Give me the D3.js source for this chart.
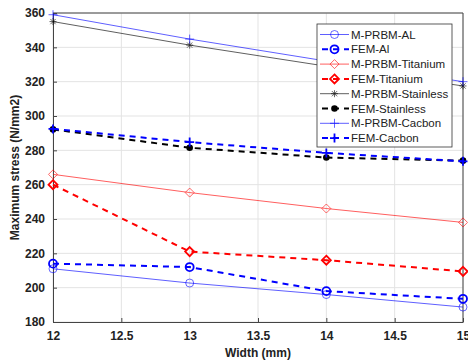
<!DOCTYPE html>
<html>
<head>
<meta charset="utf-8">
<script src="https://cdn.jsdelivr.net/npm/d3@7"></script>
<style>
  body { margin: 0; background: #fff; }
  #chart { width: 468px; height: 363px; }
  text { font-family: "Liberation Sans", Arial, sans-serif; }
</style>
</head>
<body>
<div id="chart"></div>
<script>
// Widths (mm)
const widths = [12, 13, 14, 15];

// Maximum stress values (N/mm2)
const mAl = [211, 202.7, 196, 188.7];
const femAl = [214, 212, 198, 193.5];
const mTitanium = [266, 255.4, 246.1, 238];
const femTitanium = [260, 221, 216, 209.5];
const mStainless = [355, 341.3, 329, 317.5];
const femStainless = [292.2, 281.5, 275.8, 274];
const mCacbon = [359, 344.8, 332, 320];
const femCacbon = [292.5, 284.8, 278.5, 273.6];

const seriesNames = ['M-PRBM-AL', 'FEM-Al', 'M-PRBM-Titanium', 'FEM-Titanium',
    'M-PRBM-Stainless', 'FEM-Stainless', 'M-PRBM-Cacbon', 'FEM-Cacbon'];

const xTicks = [12, 12.5, 13, 13.5, 14, 14.5, 15];
const yTicks = [180, 200, 220, 240, 260, 280, 300, 320, 340, 360];

// style per series: colour, dashed, marker
const series = [
    { name: seriesNames[0], values: mAl, color: '#0000ff', dash: false, marker: 'circle' },
    { name: seriesNames[1], values: femAl, color: '#0000ff', dash: true, marker: 'circle' },
    { name: seriesNames[2], values: mTitanium, color: '#ff0000', dash: false, marker: 'diamond' },
    { name: seriesNames[3], values: femTitanium, color: '#ff0000', dash: true, marker: 'diamond' },
    { name: seriesNames[4], values: mStainless, color: '#000000', dash: false, marker: 'star' },
    { name: seriesNames[5], values: femStainless, color: '#000000', dash: true, marker: 'dot' },
    { name: seriesNames[6], values: mCacbon, color: '#0000ff', dash: false, marker: 'plus' },
    { name: seriesNames[7], values: femCacbon, color: '#0000ff', dash: true, marker: 'plus' }
];

const margin = { top: 13, right: 5, bottom: 41, left: 53 };
const W = 468, H = 363;
const width = W - margin.left - margin.right;
const height = H - margin.top - margin.bottom;

const svg = d3.select('#chart').append('svg')
    .attr('width', W)
    .attr('height', H)
    .append('g')
    .attr('transform', `translate(${margin.left},${margin.top})`);

const x = d3.scaleLinear().domain([12, 15]).range([0, width]);
const y = d3.scaleLinear().domain([180, 360]).range([height, 0]);

// grid
svg.append('g').selectAll('line').data(xTicks).enter().append('line')
    .attr('x1', d => x(d)).attr('x2', d => x(d))
    .attr('y1', 0).attr('y2', height)
    .attr('stroke', '#e3e3e3').attr('stroke-width', 1);
svg.append('g').selectAll('line').data(yTicks).enter().append('line')
    .attr('x1', 0).attr('x2', width)
    .attr('y1', d => y(d)).attr('y2', d => y(d))
    .attr('stroke', '#e3e3e3').attr('stroke-width', 1);

// axes
const xAxis = svg.append('g')
    .attr('transform', `translate(0,${height})`)
    .call(d3.axisBottom(x).tickValues(xTicks).tickSize(-4).tickSizeOuter(0).tickPadding(9).tickFormat(d3.format('')));
const yAxis = svg.append('g')
    .call(d3.axisLeft(y).tickValues(yTicks).tickSize(-4).tickSizeOuter(0).tickPadding(8));
[xAxis, yAxis].forEach(g => {
    g.select('.domain').attr('stroke', '#444').attr('stroke-width', 1);
    g.selectAll('.tick line').attr('stroke', '#444');
    g.selectAll('.tick text')
        .attr('fill', '#222')
        .style('font-size', '12px')
        .style('font-weight', 'bold')
        .style('font-family', '"Liberation Sans", Arial, sans-serif');
});
// top and right borders
svg.append('line').attr('x1', 0).attr('x2', width).attr('y1', 0).attr('y2', 0).attr('stroke', '#444');
svg.append('line').attr('x1', width).attr('x2', width).attr('y1', 0).attr('y2', height).attr('stroke', '#444');

// axis labels
svg.append('text')
    .attr('x', width / 2)
    .attr('y', height + 35)
    .attr('text-anchor', 'middle')
    .style('font-size', '12px')
    .style('font-weight', 'bold')
    .attr('fill', '#222')
    .text('Width (mm)');
svg.append('text')
    .attr('transform', 'rotate(-90)')
    .attr('x', -height / 2)
    .attr('y', -34)
    .attr('text-anchor', 'middle')
    .style('font-size', '12px')
    .style('font-weight', 'bold')
    .attr('fill', '#222')
    .text('Maximum stress (N/mm2)');

function drawMarker(g, type, color, cx, cy, fem) {
    const sw = fem ? 1.8 : 0.8;
    if (type === 'circle') {
        g.append('circle').attr('cx', cx).attr('cy', cy).attr('r', 4)
            .attr('fill', 'none').attr('stroke', color).attr('stroke-width', sw);
    } else if (type === 'diamond') {
        const r = 4.5;
        g.append('path')
            .attr('d', `M${cx},${cy - r}L${cx + r},${cy}L${cx},${cy + r}L${cx - r},${cy}Z`)
            .attr('fill', 'none').attr('stroke', color).attr('stroke-width', sw);
    } else if (type === 'star') {
        const r = 3.5;
        const p = [];
        p.push(`M${cx - r},${cy}L${cx + r},${cy}`);
        p.push(`M${cx},${cy - r}L${cx},${cy + r}`);
        p.push(`M${cx - r * 0.75},${cy - r * 0.75}L${cx + r * 0.75},${cy + r * 0.75}`);
        p.push(`M${cx - r * 0.75},${cy + r * 0.75}L${cx + r * 0.75},${cy - r * 0.75}`);
        g.append('path').attr('d', p.join('')).attr('stroke', color).attr('stroke-width', 0.8);
    } else if (type === 'dot') {
        g.append('circle').attr('cx', cx).attr('cy', cy).attr('r', 3.3).attr('fill', color);
    } else if (type === 'plus') {
        const r = 4.5;
        g.append('path').attr('d', `M${cx - r},${cy}L${cx + r},${cy}M${cx},${cy - r}L${cx},${cy + r}`)
            .attr('stroke', color).attr('stroke-width', sw);
    }
}

const line = d3.line().x((d, i) => x(widths[i])).y(d => y(d));

const plot = svg.append('g');
series.forEach(s => {
    plot.append('path')
        .datum(s.values)
        .attr('d', line)
        .attr('fill', 'none')
        .attr('stroke', s.color)
        .attr('stroke-opacity', s.dash ? 1 : 0.7)
        .attr('stroke-width', s.dash ? 2 : 0.9)
        .attr('stroke-dasharray', s.dash ? '6,5' : null);
    const mg = plot.append('g').attr('opacity', s.dash ? 1 : 0.75);
    s.values.forEach((v, i) => drawMarker(mg, s.marker, s.color, x(widths[i]), y(v), s.dash));
});

// legend
const lx = 317 - margin.left, ly = 24 - margin.top;
const lw = 135, lh = 123;
const legend = svg.append('g').attr('transform', `translate(${lx},${ly})`);
legend.append('rect').attr('width', lw).attr('height', lh)
    .attr('fill', '#fff').attr('stroke', '#333').attr('stroke-width', 0.8);
series.forEach((s, i) => {
    const yy = 10.5 + i * 14.8;
    legend.append('line')
        .attr('x1', 3).attr('x2', 32).attr('y1', yy).attr('y2', yy)
        .attr('stroke', s.color)
        .attr('stroke-opacity', s.dash ? 1 : 0.7)
        .attr('stroke-width', s.dash ? 2 : 0.9)
        .attr('stroke-dasharray', s.dash ? '6,5' : null)
        .attr('stroke-dashoffset', s.dash ? -2 : null);
    const mg = legend.append('g').attr('opacity', s.dash ? 1 : 0.75);
    drawMarker(mg, s.marker, s.color, 17.5, yy, s.dash);
    legend.append('text')
        .attr('x', 34).attr('y', yy + 4)
        .style('font-size', '11.5px')
        .attr('fill', '#222')
        .text(s.name);
});
</script>
</body>
</html>
